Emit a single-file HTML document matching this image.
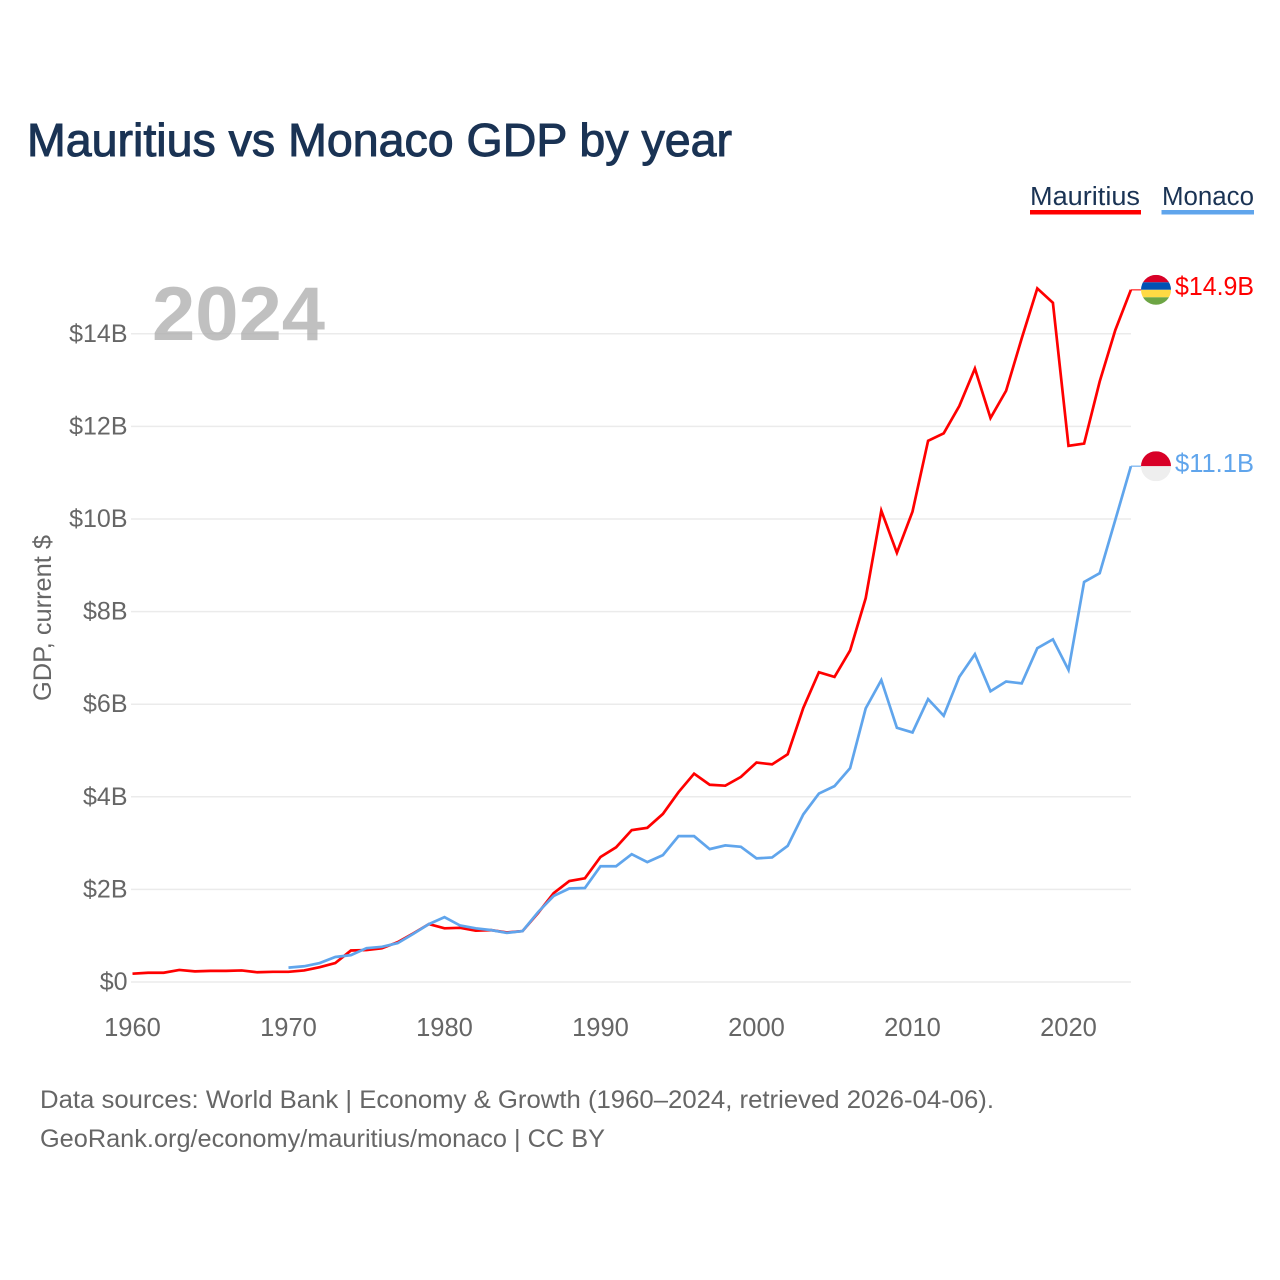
<!DOCTYPE html>
<html lang="en">
<head>
<meta charset="utf-8">
<title>Mauritius vs Monaco GDP by year</title>
<style>
html,body{margin:0;padding:0;background:#fff;width:1280px;height:1280px;overflow:hidden}
svg{display:block;font-family:"Liberation Sans",sans-serif}
</style>
</head>
<body>
<svg id="chart" xmlns="http://www.w3.org/2000/svg" width="1280" height="1280" viewBox="0 0 1280 1280">
  <defs>
    <clipPath id="clip-mu"><circle cx="1156" cy="0" r="15"/></clipPath>
    <clipPath id="clip-mc"><circle cx="1156" cy="0" r="15"/></clipPath>
  </defs>
  <rect width="1280" height="1280" fill="#fff"/>
  <text x="27" y="156" font-size="46" fill="#1a3354" stroke="#1a3354" stroke-width="1" textLength="705" lengthAdjust="spacingAndGlyphs">Mauritius vs Monaco GDP by year</text>

  <g>
    <g>
      <text x="1030" y="205" font-size="25.5" fill="#1a3354" textLength="110" lengthAdjust="spacingAndGlyphs">Mauritius</text>
      <rect x="1030" y="210" width="111" height="4.5" fill="#ff0000"/>
    </g>
    <g>
      <text x="1162" y="205" font-size="25.5" fill="#1a3354" textLength="92" lengthAdjust="spacingAndGlyphs">Monaco</text>
      <rect x="1161.5" y="210" width="92.5" height="4.5" fill="#60a5ec"/>
    </g>
  </g>

  <g id="grid"></g>
  <text x="152" y="340" font-size="76" font-weight="700" fill="#a8a8a8" fill-opacity="0.72" textLength="173" lengthAdjust="spacingAndGlyphs">2024</text>
  <g id="yticks"></g>
  <g id="xticks"></g>
  <text transform="translate(51,701) rotate(-90)" font-size="25" fill="#666" textLength="166" lengthAdjust="spacingAndGlyphs">GDP, current $</text>
  <g id="series"></g>
  <g id="ends"></g>

  <text x="40" y="1108" font-size="25" fill="#666" textLength="954" lengthAdjust="spacingAndGlyphs">Data sources: World Bank | Economy &amp; Growth (1960–2024, retrieved 2026-04-06).</text>
  <text x="40" y="1147" font-size="25" fill="#666" textLength="565" lengthAdjust="spacingAndGlyphs">GeoRank.org/economy/mauritius/monaco | CC BY</text>
</svg>
<script>
const yearsMauritius = [1960,1961,1962,1963,1964,1965,1966,1967,1968,1969,1970,1971,1972,1973,1974,1975,1976,1977,1978,1979,1980,1981,1982,1983,1984,1985,1986,1987,1988,1989,1990,1991,1992,1993,1994,1995,1996,1997,1998,1999,2000,2001,2002,2003,2004,2005,2006,2007,2008,2009,2010,2011,2012,2013,2014,2015,2016,2017,2018,2019,2020,2021,2022,2023,2024];
const gdpMauritius = [0.18,0.20,0.20,0.26,0.23,0.24,0.24,0.25,0.21,0.22,0.22,0.25,0.32,0.41,0.68,0.69,0.73,0.86,1.05,1.25,1.16,1.17,1.11,1.12,1.07,1.10,1.49,1.92,2.18,2.24,2.70,2.91,3.28,3.33,3.63,4.10,4.50,4.26,4.24,4.43,4.74,4.70,4.92,5.92,6.69,6.59,7.16,8.29,10.18,9.27,10.16,11.69,11.85,12.44,13.25,12.18,12.77,13.90,14.98,14.67,11.58,11.63,12.97,14.08,14.95];
const yearsMonaco = [1970,1971,1972,1973,1974,1975,1976,1977,1978,1979,1980,1981,1982,1983,1984,1985,1986,1987,1988,1989,1990,1991,1992,1993,1994,1995,1996,1997,1998,1999,2000,2001,2002,2003,2004,2005,2006,2007,2008,2009,2010,2011,2012,2013,2014,2015,2016,2017,2018,2019,2020,2021,2022,2023,2024];
const gdpMonaco = [0.31,0.34,0.41,0.54,0.58,0.73,0.76,0.84,1.04,1.25,1.40,1.22,1.16,1.12,1.06,1.10,1.51,1.86,2.02,2.03,2.50,2.50,2.76,2.59,2.74,3.15,3.15,2.87,2.95,2.92,2.67,2.69,2.94,3.62,4.07,4.23,4.62,5.91,6.52,5.49,5.39,6.11,5.75,6.59,7.08,6.28,6.49,6.45,7.21,7.40,6.74,8.64,8.83,9.98,11.14];
const yTickValues = [0,2,4,6,8,10,12,14];
const yTickLabels = ["$0","$2B","$4B","$6B","$8B","$10B","$12B","$14B"];
const xTickValues = [1960,1970,1980,1990,2000,2010,2020];
const xTickLabels = ["1960","1970","1980","1990","2000","2010","2020"];

const NS = "http://www.w3.org/2000/svg";
const xScale = function (year) { return 132.5 + (year - 1960) * 15.6; };
const yScale = function (value) { return 982 - value * 46.3; };
const byId = function (id) { return document.getElementById(id); };

function make(tag, attrs, parent, text) {
  const node = document.createElementNS(NS, tag);
  Object.keys(attrs).forEach(function (k) { node.setAttribute(k, attrs[k]); });
  if (text !== undefined) node.textContent = text;
  parent.appendChild(node);
  return node;
}

yTickValues.forEach(function (value, i) {
  const gridLine = make("line", {x1: 131, x2: 1131, y1: yScale(value), y2: yScale(value), stroke: "#ebebeb", "stroke-width": 1.5}, byId("grid"));
  
  
  const label = make("text", {x: 127.5, y: yScale(value) + 8, "text-anchor": "end", "font-size": 25, fill: "#666"}, byId("yticks"), yTickLabels[i]);
  
  
});

xTickValues.forEach(function (year, i) {
  const label = make("text", {x: xScale(year), y: 1036, "text-anchor": "middle", "font-size": 25.5, fill: "#666"}, byId("xticks"), xTickLabels[i]);
  
  
});

function pathFor(years, values) {
  return years.map(function (year, i) {
    return (i ? "L" : "M") + xScale(year).toFixed(2) + " " + yScale(values[i]).toFixed(2);
  }).join(" ");
}

const lineMauritius = make("path", {d: pathFor(yearsMauritius, gdpMauritius), fill: "none", stroke: "#ff0000", "stroke-width": 2.7, "stroke-linejoin": "miter"}, byId("series"));


const lineMonaco = make("path", {d: pathFor(yearsMonaco, gdpMonaco), fill: "none", stroke: "#60a5ec", "stroke-width": 2.7, "stroke-linejoin": "miter"}, byId("series"));



const endMauritius = yScale(gdpMauritius[gdpMauritius.length - 1]);
const endMonaco = yScale(gdpMonaco[gdpMonaco.length - 1]);
const endX = xScale(2024);

const connectorMauritius = make("line", {x1: endX, x2: 1141, y1: endMauritius, y2: endMauritius, stroke: "#ff0000", "stroke-width": 1.5, "stroke-opacity": 0.7}, byId("ends"));


const connectorMonaco = make("line", {x1: endX, x2: 1141, y1: endMonaco, y2: endMonaco, stroke: "#60a5ec", "stroke-width": 1.5, "stroke-opacity": 0.7}, byId("ends"));



const flagMu = make("g", {transform: "translate(0," + endMauritius + ")"}, byId("ends"));


const flagMuClip = make("g", {"clip-path": "url(#clip-mu)"}, flagMu);
[["#d80027", -15, 7.5], ["#0052b4", -7.5, 7.5], ["#ffda44", 0, 7.5], ["#6da544", 7.5, 7.5]].forEach(function (band) {
  make("rect", {x: 1141, y: band[1], width: 30, height: band[2], fill: band[0]}, flagMuClip);
});

const flagMc = make("g", {transform: "translate(0," + endMonaco + ")"}, byId("ends"));


const flagMcClip = make("g", {"clip-path": "url(#clip-mc)"}, flagMc);
make("rect", {x: 1141, y: -15, width: 30, height: 15, fill: "#d80027"}, flagMcClip);
make("rect", {x: 1141, y: 0, width: 30, height: 15, fill: "#eeeeee"}, flagMcClip);

const valueMauritius = make("text", {x: 1175, y: endMauritius + 5, "font-size": 25.5, fill: "#ff0000", textLength: 79, lengthAdjust: "spacingAndGlyphs"}, byId("ends"), "$14.9B");


const valueMonaco = make("text", {x: 1175, y: endMonaco + 6, "font-size": 25.5, fill: "#60a5ec", textLength: 79, lengthAdjust: "spacingAndGlyphs"}, byId("ends"), "$11.1B");


</script>
</body>
</html>
